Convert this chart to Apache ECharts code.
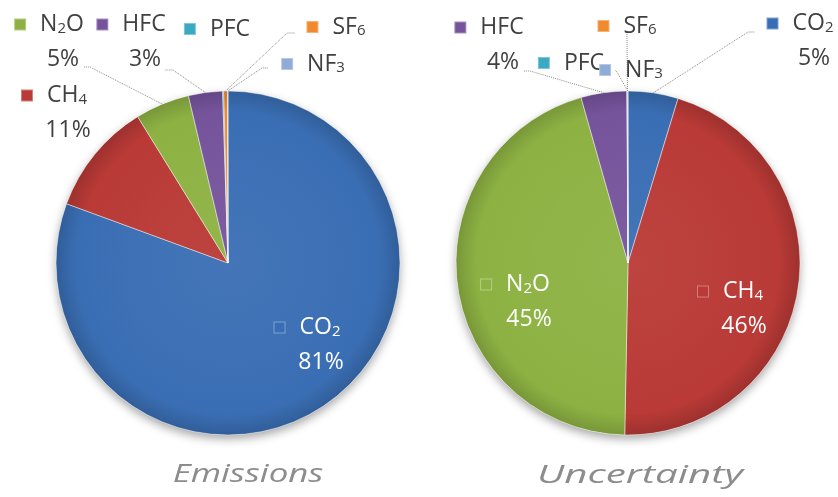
<!DOCTYPE html>
<html><head><meta charset="utf-8">
<script src="https://cdn.jsdelivr.net/npm/echarts@6/dist/echarts.min.js"></script>
<style>html,body{margin:0;padding:0;background:#fff}#c{width:838px;height:497px}</style>
</head><body><div id="c"></div>
<script>
// ---- data ----
const gases = ['CO2', 'CH4', 'N2O', 'HFC', 'PFC', 'SF6', 'NF3'];
const emissionsShare = [80.6, 10.6, 5.1, 3.2, 0.1, 0.35, 0.05];
const uncertaintyShare = [4.7, 45.6, 45.3, 4.3, 0.03, 0.03, 0.04];
const pieTitles = ['Emissions', 'Uncertainty'];

// ---- styles ----
const baseColors = ['#3A6EB4', '#B93A36', '#8DB243', '#76549C', '#3BA8C4', '#F08A2C', '#8EACD6'];
const FONT = '"Open Sans", "Liberation Sans", sans-serif';

function shade(hex, f) {
  const n = parseInt(hex.slice(1), 16);
  let r = n >> 16, g = (n >> 8) & 255, b = n & 255;
  const m = c => Math.max(0, Math.min(255, Math.round(f >= 0 ? c + (255 - c) * f : c * (1 + f))));
  return 'rgb(' + m(r) + ',' + m(g) + ',' + m(b) + ')';
}

const pies = [
  { values: emissionsShare, center: [228, 263], title: pieTitles[0], titlePos: [248, 475], titleScale: 1.34 },
  { values: uncertaintyShare, center: [628, 263], title: pieTitles[1], titlePos: [640, 476], titleScale: 1.55 }
];
const R = 172;

// label anchors (center of the name text, middle of the label block)
const labelSpots = [
  { CO2: [321, 345], CH4: [68, 113], N2O: [63, 42], HFC: [145, 42], PFC: [231, 29], SF6: [350, 27], NF3: [327, 64] },
  { CO2: [814, 41], CH4: [744, 309], N2O: [529, 302], HFC: [503, 45], PFC: [585, 63], SF6: [641, 26], NF3: [645, 70] }
];
// leader line knee/end points
const leaders = [
  { N2O: [[90, 67], [84, 67]], HFC: [[173, 70], [165, 70]], SF6: [[287, 33], [295, 33]], NF3: [[262, 68], [268, 68]] },
  { HFC: [[530, 71], [523, 71]], SF6: [[627, 36], [627, 33]], NF3: [[617, 72], [615, 70]], CO2: [[748, 32], [755, 32]] }
];

const rich = {
  t: { fontSize: 23, fontFamily: FONT, lineHeight: 35 },
  s: { fontSize: 15, fontFamily: FONT, lineHeight: 22, padding: [8, 0, 0, 0] },
  p: { fontSize: 23, fontFamily: FONT, lineHeight: 35 },
  g: { width: 15 },
  z: { width: 12, height: 11 }
};
baseColors.forEach((c, i) => {
  rich['m' + i] = { width: 10, height: 10, backgroundColor: c, borderColor: shade(c, 0.35), borderWidth: 1 };
});

function nameRich(name) {
  return name.replace(/(\D+)|(\d+)/g, (m, a, b) => a ? '{t|' + a + '}' : '{s|' + b + '}');
}

const series = [];
pies.forEach((pie, si) => {
  const grad = c => ({
    type: 'radial', x: pie.center[0], y: pie.center[1], r: R, global: true,
    colorStops: [{ offset: 0, color: shade(c, 0.05) }, { offset: 0.88, color: c }, { offset: 1, color: shade(c, -0.15) }]
  });
  // soft shadow underlay
  series.push({
    type: 'pie', center: pie.center, radius: R, startAngle: 90, clockwise: true, silent: true, z: 1,
    label: { show: false }, labelLine: { show: false },
    itemStyle: { color: '#fff', shadowBlur: 10, shadowColor: 'rgba(0,0,0,0.35)', shadowOffsetY: 4 },
    data: gases.map((g, i) => ({ name: g, value: pie.values[i] }))
  });
  series.push({
    type: 'pie', center: pie.center, radius: R, startAngle: 90, clockwise: true, z: 2,
    avoidLabelOverlap: false, silent: true,
    itemStyle: { borderColor: 'rgba(255,255,255,0.45)', borderWidth: 1 },
    label: {
      show: true, position: 'outside', rich: rich, color: '#404040', align: 'center',
      formatter: p => {
        let s = '{m' + p.dataIndex + '|}{g|}' + nameRich(p.name) + '{g|}{z|}';
        if (p.value >= 1) s += '\n{p|' + Math.round(p.value) + '%}';
        return s;
      }
    },
    labelLine: { lineStyle: { color: '#8a8a8a', width: 1, type: 'dotted' } },
    labelLayout: params => {
      const name = gases[params.dataIndex];
      const spot = labelSpots[si][name];
      const out = { x: spot[0], y: spot[1], align: 'center', verticalAlign: 'middle' };
      const ld = leaders[si][name];
      if (ld && params.labelLinePoints) {
        out.labelLinePoints = [params.labelLinePoints[0], ld[0], ld[1]];
      }
      return out;
    },
    data: gases.map((g, i) => ({
      name: g, value: pie.values[i],
      itemStyle: { color: grad(baseColors[i]) },
      label: { color: pie.values[i] >= 40 ? '#ffffff' : '#404040' },
      labelLine: { show: !!leaders[si][g] }
    }))
  });
});

const chart = echarts.init(document.getElementById('c'), null, { renderer: 'canvas' });
chart.setOption({
  animation: false,
  backgroundColor: '#ffffff',
  series: series,
  graphic: pies.map(pie => ({
    type: 'text', x: pie.titlePos[0], y: pie.titlePos[1], scaleX: pie.titleScale,
    style: { text: pie.title, font: 'italic 26px ' + FONT, fill: '#8c8c8c', textAlign: 'center', textVerticalAlign: 'middle' }
  }))
});
</script>
</body></html>
